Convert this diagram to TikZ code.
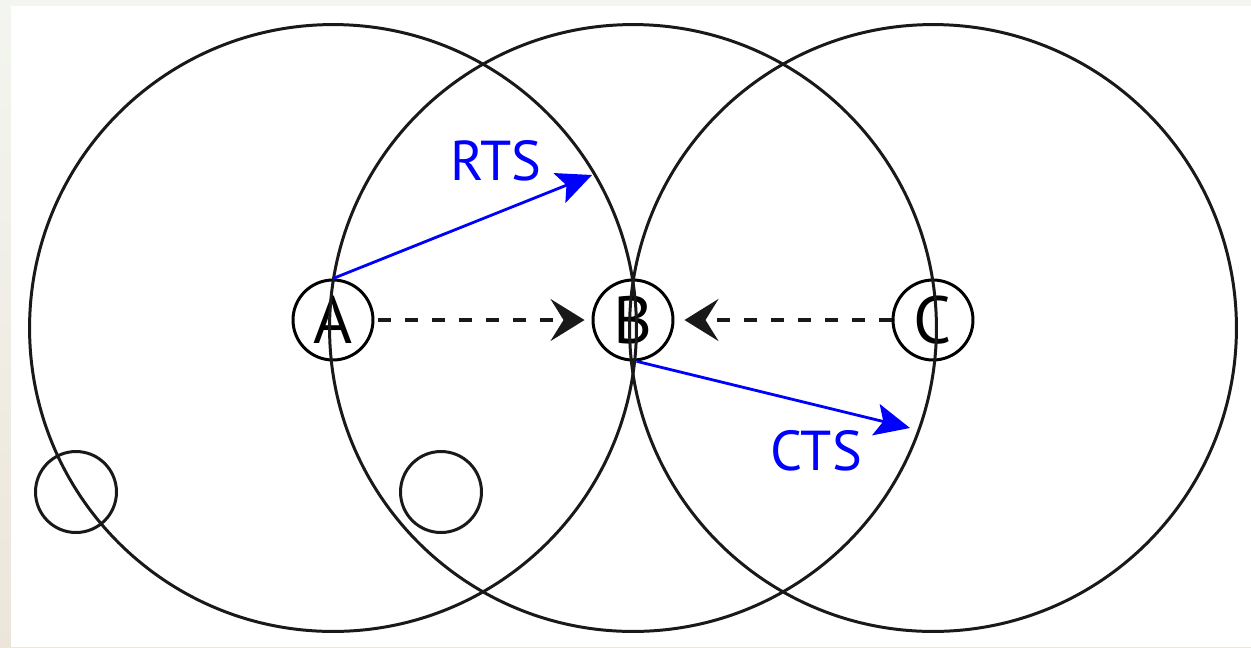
\documentclass[tikz,border=0pt]{standalone}
\usepackage{fontspec}
\setmainfont{PT Sans}
\usetikzlibrary{arrows.meta}
\definecolor{bgtop}{RGB}{243,245,240}
\definecolor{bgbot}{RGB}{236,230,218}
\definecolor{pureblue}{RGB}{0,0,255}
\tikzset{
  station/.style={circle, draw=black, line width=1.7pt, minimum size=1.6cm, inner sep=0pt, font=\fontsize{38}{40}\selectfont},
  rangecircle/.style={draw=black!90, line width=1.7pt},
  hiddennode/.style={circle, draw=black!90, line width=1.7pt, minimum size=1.62cm, inner sep=0pt},
  dasharrow/.style={black!90, line width=2pt, dash pattern=on 7.4pt off 7.9pt, -{Stealth[length=0.68cm,width=0.84cm,inset=0.26cm]}},
  msgarrow/.style={pureblue, line width=1.6pt, -{Stealth[length=0.7cm,width=0.64cm,inset=0.15cm]}},
  msglabel/.style={text=pureblue, font=\fontsize{32}{34}\selectfont, inner sep=0pt}
}
\begin{document}
\begin{tikzpicture}[x=0.02cm,y=-0.02cm]
\useasboundingbox (0,0) rectangle (1251,647);
\shade[top color=bgtop, bottom color=bgbot] (0,0) rectangle (1251,647);
\fill[white] (11,6) rectangle (1251,647);
% stations
\node[station] (A) at (333,320) {A};
\node[station] (B) at (633,320) {B};
\node[station] (C) at (933,320) {C};
% ranges (centres slightly below the stations, as drawn)
\coordinate (rA) at (333,328);
\coordinate (rB) at (633,328);
\coordinate (rC) at (933,328);
\draw[rangecircle] (rA) circle[radius=6.07cm];
\draw[rangecircle] (rB) circle[radius=6.07cm];
\draw[rangecircle] (rC) circle[radius=6.07cm];
% other small nodes
\node[hiddennode] (n1) at (76,492) {};
\node[hiddennode] (n2) at (441,492) {};
% dashed arrows
\draw[dasharrow, shorten <=0.08cm, shorten >=0.14cm] (A) -- (B);
\draw[dasharrow, shorten <=0cm, shorten >=0.2cm] (C) -- (B);
% RTS / CTS
\coordinate (rtsEnd) at (592,175);
\coordinate (ctsEnd) at (910,428);
\draw[msgarrow] (A.north) -- (rtsEnd);
\draw[msgarrow] (B.-85) -- (ctsEnd);
\node[msglabel] (rts) at (496,161) {RTS};
\node[msglabel] (cts) at (816,451) {CTS};
\end{tikzpicture}
\end{document}
